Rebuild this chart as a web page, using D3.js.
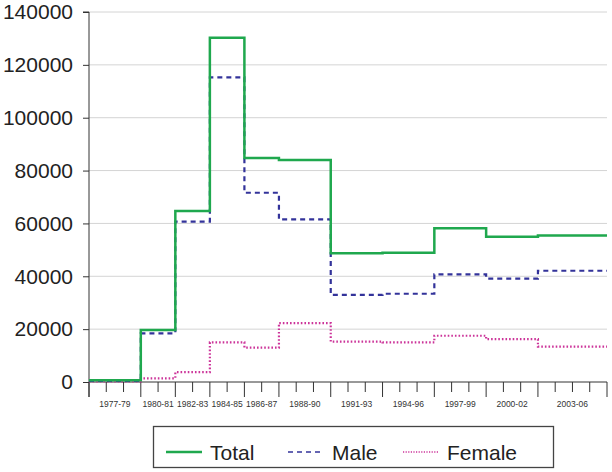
<!DOCTYPE html>
<html>
<head>
<meta charset="utf-8">
<script src="https://cdn.jsdelivr.net/npm/d3@7"></script>
<style>
body { margin: 0; background: #fff; }
svg { display: block; font-family: "Liberation Sans", Arial, sans-serif; }
</style>
</head>
<body>
<script>
// periods: start year, end year and label
var periods = ["1977-79", "1980-81", "1982-83", "1984-85", "1986-87", "1988-90",
               "1991-93", "1994-96", "1997-99", "2000-02", "2003-06"]
var starts = [1977, 1980, 1982, 1984, 1986, 1988, 1991, 1994, 1997, 2000, 2003]
var ends   = [1980, 1982, 1984, 1986, 1988, 1991, 1994, 1997, 2000, 2003, 2007]

var total  = [700, 19700, 64700, 130300, 84800, 84000, 48700, 48900, 58200, 55000, 55400]
var male   = [400, 18400, 60700, 115300, 71600, 61500, 33000, 33400, 40700, 39100, 42100]
var female = [200, 1400, 3700, 15000, 13000, 22300, 15300, 15000, 17500, 16200, 13400]

var yTicks = [0, 20000, 40000, 60000, 80000, 100000, 120000, 140000]

var width = 612, height = 472
var x = d3.scaleLinear().domain([1977, 2007]).range([89, 607])
var y = d3.scaleLinear().domain([0, 140000]).range([382, 12])

var svg = d3.select("body").append("svg")
    .attr("width", width)
    .attr("height", height)

// gridlines
svg.append("g").selectAll("line")
    .data(yTicks.slice(1))
    .enter().append("line")
    .attr("x1", x(1977)).attr("x2", x(2007))
    .attr("y1", d => y(d)).attr("y2", d => y(d))
    .attr("stroke", "#d4d4d4").attr("stroke-width", 1)

// y axis
var yAxis = svg.append("g")
    .attr("transform", "translate(" + x(1977) + ",0)")
    .call(d3.axisLeft(y).tickValues(yTicks).tickSize(6).tickPadding(10).tickFormat(d3.format("d")))
yAxis.select(".domain").attr("d", "M-6," + y(140000) + "H0V397").attr("stroke", "#333")
yAxis.selectAll(".tick line").attr("stroke", "#333")
yAxis.selectAll("text").attr("font-size", 21).attr("fill", "#222")
    .attr("font-family", "Liberation Sans, Arial, sans-serif")

// x axis: yearly minor ticks, period boundary major ticks
var years = d3.range(1977, 2008)
var xg = svg.append("g")
xg.append("line")
    .attr("x1", x(1977)).attr("x2", x(2007))
    .attr("y1", y(0)).attr("y2", y(0))
    .attr("stroke", "#333")
var majors = starts.concat([2007])
xg.selectAll(".yt").data(years).enter().append("line")
    .attr("class", "yt")
    .attr("x1", d => x(d)).attr("x2", d => x(d))
    .attr("y1", y(0))
    .attr("y2", d => majors.indexOf(d) >= 0 ? y(0) + 15 : y(0) + 10)
    .attr("stroke", "#333")
xg.selectAll(".pl").data(periods).enter().append("text")
    .attr("x", (d, i) => (x(starts[i]) + x(ends[i])) / 2)
    .attr("y", 407)
    .attr("text-anchor", "middle")
    .attr("font-size", 8.5)
    .attr("fill", "#333")
    .text(d => d)

// step lines
function stepData(vals) {
    var pts = vals.map((v, i) => [starts[i], v])
    pts.push([2007, vals[vals.length - 1]])
    return pts
}
var line = d3.line().x(d => x(d[0])).y(d => y(d[1])).curve(d3.curveStepAfter)

var series = [
    {name: "Female", vals: female, color: "#cc3399", width: 2.2, dash: "1.6,2"},
    {name: "Male", vals: male, color: "#33339a", width: 2.2, dash: "5,4"},
    {name: "Total", vals: total, color: "#1fa84e", width: 2.5, dash: null}
]
series.forEach(function(s) {
    svg.append("path")
        .datum(stepData(s.vals))
        .attr("d", line)
        .attr("fill", "none")
        .attr("stroke", s.color)
        .attr("stroke-width", s.width)
        .attr("stroke-dasharray", s.dash)
})

// legend
var lg = svg.append("g")
lg.append("rect")
    .attr("x", 153.5).attr("y", 426.5).attr("width", 400).attr("height", 41)
    .attr("fill", "#fff").attr("stroke", "#444").attr("stroke-width", 1.3)
var legendItems = [
    {s: series[2], lx: 166, tx: 210},
    {s: series[1], lx: 288, tx: 332},
    {s: series[0], lx: 403, tx: 447}
]
legendItems.forEach(function(it) {
    lg.append("line")
        .attr("x1", it.lx).attr("x2", it.lx + 36)
        .attr("y1", 452).attr("y2", 452)
        .attr("stroke", it.s.color)
        .attr("stroke-width", it.s.name == "Total" ? 2.5 : 1.6)
        .attr("stroke-dasharray", it.s.name == "Male" ? "5,4" : it.s.name == "Female" ? "1.2,1.4" : null)
    lg.append("text")
        .attr("x", it.tx).attr("y", 459.5)
        .attr("font-size", 21)
        .attr("fill", "#222")
        .text(it.s.name)
})
</script>
</body>
</html>
